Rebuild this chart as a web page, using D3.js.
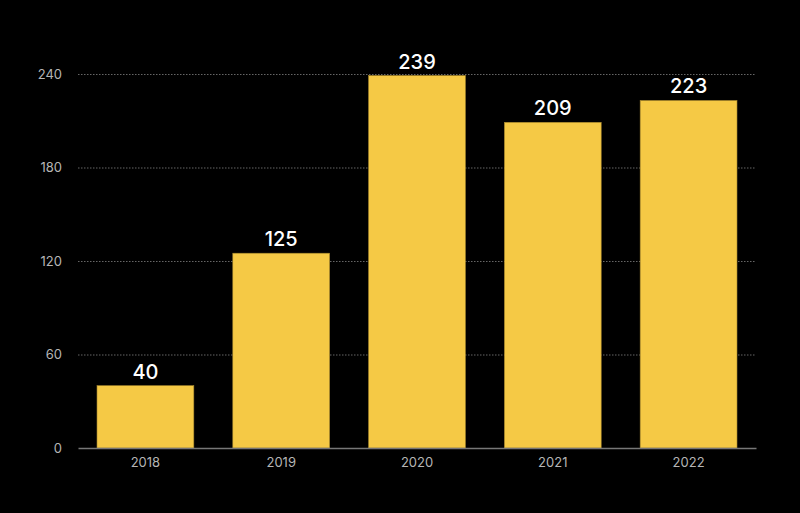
<!DOCTYPE html>
<html>
<head>
<meta charset="utf-8">
<script src="https://cdn.jsdelivr.net/npm/d3@7"></script>
<style>
  body { margin: 0; background: #000; }
  svg { display: block; }
</style>
</head>
<body>
<div id="chart"></div>
<script>
// chart data
const years = ['2018', '2019', '2020', '2021', '2022'];
const values = [40, 125, 239, 209, 223];
const yTicks = [0, 60, 120, 180, 240];

const width = 800, height = 513;
const margin = {top: 74, right: 44, bottom: 65, left: 78};
const innerW = width - margin.left - margin.right;
const innerH = height - margin.top - margin.bottom;

const svg = d3.select('#chart')
    .append('svg')
        .attr('width', width)
        .attr('height', height)
        .style('background', '#000');

const g = svg.append('g')
    .attr('transform', `translate(${margin.left},${margin.top})`);

const x = d3.scaleBand()
    .domain(years)
    .range([0, innerW])
    .paddingInner(0.287)
    .paddingOuter(0.14);

const y = d3.scaleLinear()
    .domain([0, 240])
    .range([innerH, 0]);

// dotted gridlines
g.selectAll('.grid')
    .data(yTicks.filter(t => t > 0))
    .enter()
    .append('line')
        .attr('x1', 0)
        .attr('x2', innerW)
        .attr('y1', d => y(d) + 0.5)
        .attr('y2', d => y(d) + 0.5)
        .attr('stroke', '#666')
        .attr('stroke-width', 1)
        .attr('stroke-dasharray', '1.5,1.5');

// y axis labels
const yAxis = d3.axisLeft(y).tickValues(yTicks).tickSize(0).tickPadding(16);
g.append('g')
    .call(yAxis)
    .call(a => a.select('.domain').remove())
    .selectAll('text')
        .attr('fill', '#b5b5b5')
        .style('font-family', 'Inter, "Noto Sans", sans-serif')
        .style('font-size', '13px');

// bars
g.selectAll('.bar')
    .data(years)
    .enter()
    .append('rect')
        .attr('x', (d, i) => x(d))
        .attr('y', (d, i) => y(values[i]))
        .attr('width', x.bandwidth())
        .attr('height', (d, i) => innerH - y(values[i]))
        .attr('fill', '#f5c945')
        .attr('stroke', '#a8892e')
        .attr('stroke-width', 0.6);

// value labels
g.selectAll('.label')
    .data(years)
    .enter()
    .append('text')
        .attr('x', d => x(d) + x.bandwidth() / 2)
        .attr('y', (d, i) => y(values[i]) - 7)
        .attr('text-anchor', 'middle')
        .attr('fill', '#fff')
        .style('font-family', 'Inter, "Noto Sans", sans-serif')
        .style('font-size', '20px')
        .style('font-weight', 500)
        .text((d, i) => values[i]);

// x axis
const xAxis = d3.axisBottom(x).tickSize(0).tickPadding(10);
g.append('g')
    .attr('transform', `translate(0,${innerH})`)
    .call(xAxis)
    .call(a => a.select('.domain').attr('stroke', '#777').attr('stroke-width', 1.5))
    .selectAll('text')
        .attr('fill', '#b5b5b5')
        .style('font-family', 'Inter, "Noto Sans", sans-serif')
        .style('font-size', '13px');
</script>
</body>
</html>
